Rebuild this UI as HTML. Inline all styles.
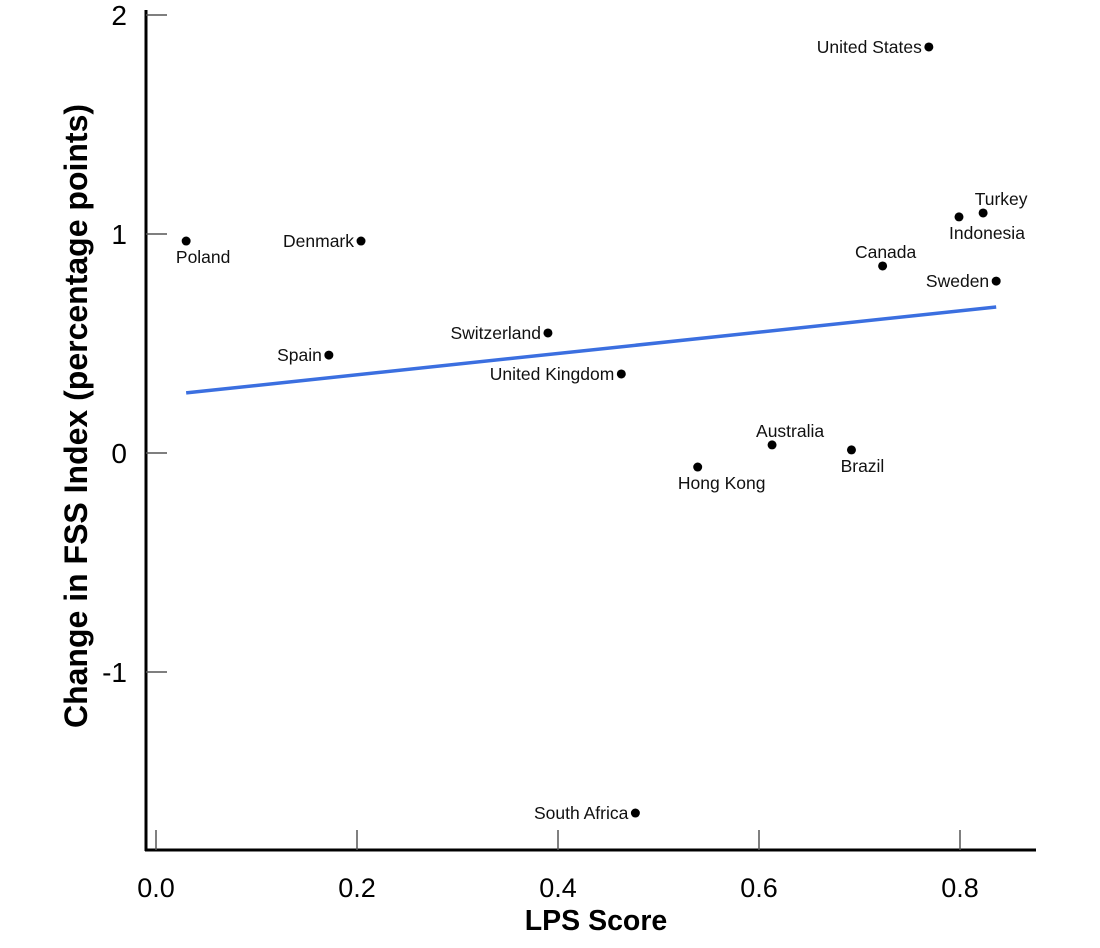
<!DOCTYPE html>
<html><head><meta charset="utf-8"><style>
html,body{margin:0;padding:0;background:#fff;}
svg{display:block;font-family:"Liberation Sans",Arial,sans-serif;}
</style></head><body>
<svg id="chart" width="1100" height="948"></svg>
<script>
const countries=["Poland","Denmark","Spain","Switzerland","United Kingdom","South Africa","Hong Kong","Australia","Brazil","Canada","United States","Indonesia","Turkey","Sweden"];
const lpsScores=[0.030,0.204,0.172,0.390,0.463,0.477,0.539,0.613,0.692,0.723,0.769,0.799,0.823,0.836];
const fssChanges=[0.968,0.968,0.447,0.548,0.361,-1.644,-0.064,0.037,0.014,0.854,1.854,1.078,1.096,0.785];
const labelPos=["below","left","left","left","left","left","below","above","below","above","left","below","above","left"];
const xTicks=[0.0,0.2,0.4,0.6,0.8];
const xTickLabels=["0.0","0.2","0.4","0.6","0.8"];
const yTicks=[2,1,0,-1];
const yTickLabels=["2","1","0","-1"];

const NS="http://www.w3.org/2000/svg";
const svg=document.getElementById("chart");
const X=v=>156+v*1005;
const Y=v=>453-v*219;
function mk(t,a,txt){const e=document.createElementNS(NS,t);for(const k in a)e.setAttribute(k,a[k]);if(txt!==undefined)e.textContent=txt;svg.appendChild(e);return e;}

let e;
e=mk("line",{x1:146,y1:10,x2:146,y2:851,stroke:"#000","stroke-width":3});


e=mk("line",{x1:145,y1:850,x2:1036,y2:850,stroke:"#000","stroke-width":3});



xTicks.forEach((t,i)=>{
  e=mk("line",{x1:X(t),y1:850,x2:X(t),y2:830,stroke:"#555","stroke-width":1.5});
  
  
  e=mk("text",{x:X(t),y:897,"font-size":27,"text-anchor":"middle",fill:"#000"},xTickLabels[i]);
  
  
});
yTicks.forEach((t,i)=>{
  e=mk("line",{x1:146,y1:Y(t),x2:167,y2:Y(t),stroke:"#555","stroke-width":1.5});
  
  
  e=mk("text",{x:127,y:Y(t)+10,"font-size":28,"text-anchor":"end",fill:"#000"},yTickLabels[i]);
  
  
});

e=mk("text",{x:596,y:930,"font-size":28.5,"font-weight":"bold","text-anchor":"middle"},"LPS Score");


e=mk("text",{x:0,y:0,"font-size":32,"font-weight":"bold","text-anchor":"middle",transform:"translate(87,416) rotate(-90)"},"Change in FSS Index (percentage points)");



// regression line
const n=lpsScores.length;
const mx=lpsScores.reduce((a,b)=>a+b,0)/n, my=fssChanges.reduce((a,b)=>a+b,0)/n;
let sxy=0,sxx=0;for(let i=0;i<n;i++){sxy+=(lpsScores[i]-mx)*(fssChanges[i]-my);sxx+=(lpsScores[i]-mx)**2;}
const b=sxy/sxx,a0=my-b*mx;
const xmin=Math.min(...lpsScores),xmax=Math.max(...lpsScores);
e=mk("line",{x1:X(xmin),y1:Y(a0+b*xmin),x2:X(xmax),y2:Y(a0+b*xmax),stroke:"#3b6fe0","stroke-width":3.5});



countries.forEach((c,i)=>{
  const px=X(lpsScores[i]),py=Y(fssChanges[i]);
  e=mk("circle",{cx:px,cy:py,r:4.5,fill:"#000"});
  
  
  let tx=px,ty=py,anc="middle";
  if(labelPos[i]==="left"){tx=px-7;ty=py+6;anc="end";}
  else if(labelPos[i]==="below"){tx=px+17;ty=py+22;}
  else {tx=px+18;ty=py-8;}
  if(c==="Hong Kong"){tx=px+24;} if(c==="Brazil"){tx=px+11;} if(c==="Canada"){tx=px+3;} if(c==="Indonesia"){tx=px+28;}
  e=mk("text",{x:tx,y:ty,"font-size":17.5,"text-anchor":anc,fill:"#111"},c);
  
  
});
</script>
</body></html>
